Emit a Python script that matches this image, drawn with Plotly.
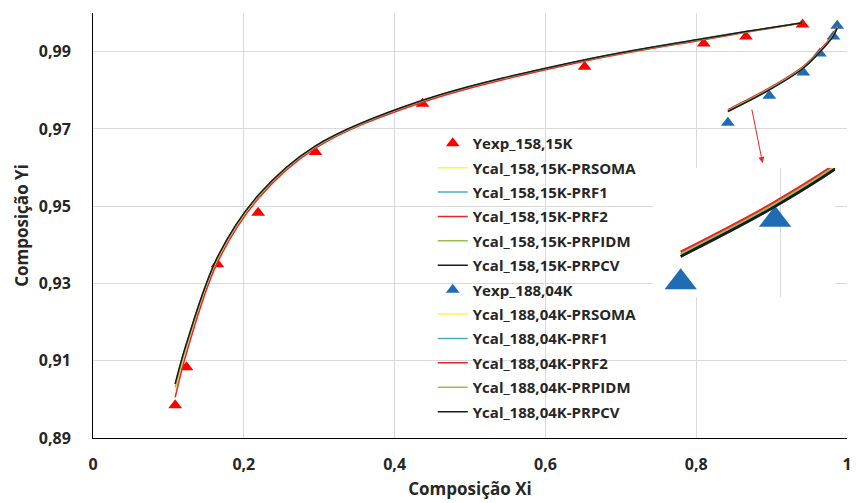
import plotly.graph_objects as go

# ---------------- data ----------------
x_158 = [0.109, 0.124, 0.165, 0.219, 0.295, 0.437, 0.652, 0.810, 0.866, 0.941]
yexp_158 = [0.8985, 0.9083, 0.9350, 0.9483, 0.9640, 0.9765, 0.9861, 0.9921, 0.9939, 0.9970]
ycal_158_prsoma = [0.90225, 0.91325, 0.9361, 0.95235, 0.9653, 0.97715, 0.9877, 0.99325, 0.9951, 0.99745]
ycal_158_prf1 = [0.9039, 0.9144, 0.9367, 0.9527, 0.9655, 0.9773, 0.9878, 0.9934, 0.9952, 0.9975]
ycal_158_prf2 = [0.9005, 0.9120, 0.9354, 0.9519, 0.9650, 0.9769, 0.9875, 0.9931, 0.9950, 0.9974]
ycal_158_prpidm = [0.9031, 0.9139, 0.9365, 0.9526, 0.9654, 0.9773, 0.9878, 0.9933, 0.9951, 0.9975]
ycal_158_prpcv = [0.9040, 0.9145, 0.9368, 0.9528, 0.9656, 0.9774, 0.9879, 0.9934, 0.9952, 0.9975]

x_188 = [0.842, 0.897, 0.942, 0.964, 0.982, 0.987]
yexp_188 = [0.9716, 0.9786, 0.9846, 0.9895, 0.9939, 0.9967]
ycal_188_prsoma = [0.97475, 0.98035, 0.98595, 0.99015, 0.99435, 0.99645]
ycal_188_prf1 = [0.9745, 0.9801, 0.9857, 0.9899, 0.9941, 0.9962]
ycal_188_prf2 = [0.9750, 0.9806, 0.9862, 0.9904, 0.9946, 0.9967]
ycal_188_prpidm = [0.97475, 0.98035, 0.98595, 0.99015, 0.99435, 0.99645]
ycal_188_prpcv = [0.9745, 0.9801, 0.9857, 0.9899, 0.9941, 0.9962]

YELLOW = "#FFF44F"
CYAN = "#4BACC6"
RED = "#E8262A"
GREEN = "#9BBB59"
BLACK = "#1A1A1A"
RED_MK = "#FF0000"
BLUE_MK = "#1F6CB4"
GRID = "#D9D9D9"
FONT = "Open Sans"

fig = go.Figure()

series = [
    ("Yexp_158,15K", x_158, yexp_158, "m", RED_MK),
    ("Ycal_158,15K-PRSOMA", x_158, ycal_158_prsoma, "l", YELLOW),
    ("Ycal_158,15K-PRF1", x_158, ycal_158_prf1, "l", CYAN),
    ("Ycal_158,15K-PRF2", x_158, ycal_158_prf2, "l", RED),
    ("Ycal_158,15K-PRPIDM", x_158, ycal_158_prpidm, "l", GREEN),
    ("Ycal_158,15K-PRPCV", x_158, ycal_158_prpcv, "l", BLACK),
    ("Yexp_188,04K", x_188, yexp_188, "m", BLUE_MK),
    ("Ycal_188,04K-PRSOMA", x_188, ycal_188_prsoma, "l", YELLOW),
    ("Ycal_188,04K-PRF1", x_188, ycal_188_prf1, "l", CYAN),
    ("Ycal_188,04K-PRF2", x_188, ycal_188_prf2, "l", RED),
    ("Ycal_188,04K-PRPIDM", x_188, ycal_188_prpidm, "l", GREEN),
    ("Ycal_188,04K-PRPCV", x_188, ycal_188_prpcv, "l", BLACK),
]

for i, (name, xs, ys, kind, col) in enumerate(series):
    if kind == "m":
        fig.add_trace(go.Scatter(x=xs, y=ys, mode="markers", name=name,
                                 legendgroup=f"g{i}",
                                 marker=dict(symbol="triangle-up", size=12, color=col)))
    else:
        fig.add_trace(go.Scatter(x=xs, y=ys, mode="lines", name=name,
                                 legendgroup=f"g{i}",
                                 line=dict(color=col, width=1.5, shape="spline", smoothing=1.0)))

# inset (zoomed view of the 188,04K curves)
for i, (name, xs, ys, kind, col) in enumerate(series[6:]):
    if kind == "m":
        fig.add_trace(go.Scatter(x=xs, y=ys, mode="markers", showlegend=False,
                                 xaxis="x2", yaxis="y2",
                                 marker=dict(symbol="triangle-up", size=28, color=col)))
    else:
        fig.add_trace(go.Scatter(x=xs, y=ys, mode="lines", showlegend=False,
                                 xaxis="x2", yaxis="y2",
                                 line=dict(color=col, width=2.8, shape="spline")))

# layout geometry
W, H = 857, 503
L, R, T, B = 93, 5, 13, 65
pw, ph = W - L - R, H - T - B

def px_x(p):
    return (p - L) / pw

def px_y(p):
    return (H - B - p) / ph

inset_x = [0.826, 0.932]
inset_y = [0.96995, 0.9844]

fig.update_layout(
    width=W, height=H,
    margin=dict(l=L, r=R, t=T, b=B),
    paper_bgcolor="white", plot_bgcolor="white",
    separators=",.",
    font=dict(family=FONT, color="#262626"),
    showlegend=True,
    legend=dict(
        x=px_x(435), y=px_y(127), xanchor="left", yanchor="top",
        bgcolor="rgba(0,0,0,0)", borderwidth=0,
        font=dict(family=FONT, size=15, color="#262626", weight="bold"),
        traceorder="grouped", tracegroupgap=1.9,
    ),
    xaxis=dict(
        range=[0, 1], dtick=0.2, tick0=0, showgrid=True, gridcolor=GRID, gridwidth=1,
        zeroline=False, showline=True, linecolor="#000000", linewidth=1,
        mirror=False, ticks="", ticklabelstandoff=12,
        tickfont=dict(family=FONT, size=16, color="#262626", weight="bold"),
        title=dict(text="Composição Xi", standoff=8,
                   font=dict(family=FONT, size=17, color="#262626", weight="bold")),
        domain=[0, 1],
    ),
    yaxis=dict(
        range=[0.89, 1.0], dtick=0.02, tick0=0.89, tickformat=".2f",
        showgrid=True, gridcolor=GRID, gridwidth=1,
        zeroline=False, showline=True, linecolor="#000000", linewidth=1,
        ticks="", ticklabelstandoff=18,
        tickfont=dict(family=FONT, size=16, color="#262626", weight="bold"),
        title=dict(text="Composição Yi", standoff=5,
                   font=dict(family=FONT, size=17, color="#262626", weight="bold")),
        domain=[0, 1],
    ),
    xaxis2=dict(
        range=inset_x, dtick=0.1, tick0=0, showgrid=True, gridcolor=GRID,
        zeroline=False, showline=False, showticklabels=False, ticks="",
        domain=[px_x(657), px_x(840)], anchor="y2",
    ),
    yaxis2=dict(
        range=inset_y, dtick=0.02, tick0=0.89, showgrid=True, gridcolor=GRID,
        zeroline=False, showline=False, showticklabels=False, ticks="",
        domain=[px_y(297), px_y(168)], anchor="x2",
    ),
    shapes=[
        dict(type="rect", xref="x2", yref="y2", layer="below",
             x0=inset_x[0], x1=inset_x[1], y0=inset_y[0], y1=inset_y[1],
             fillcolor="white", line=dict(width=0)),
    ],
    annotations=[
        dict(x=px_x(767), y=px_y(163), xref="paper", yref="paper",
             ax=-11, ay=-55, axref="pixel", ayref="pixel",
             text="", showarrow=True, arrowcolor="#E8262A",
             arrowwidth=1, arrowhead=2, arrowsize=1.2),
    ],
)

fig.write_html("out.html")
